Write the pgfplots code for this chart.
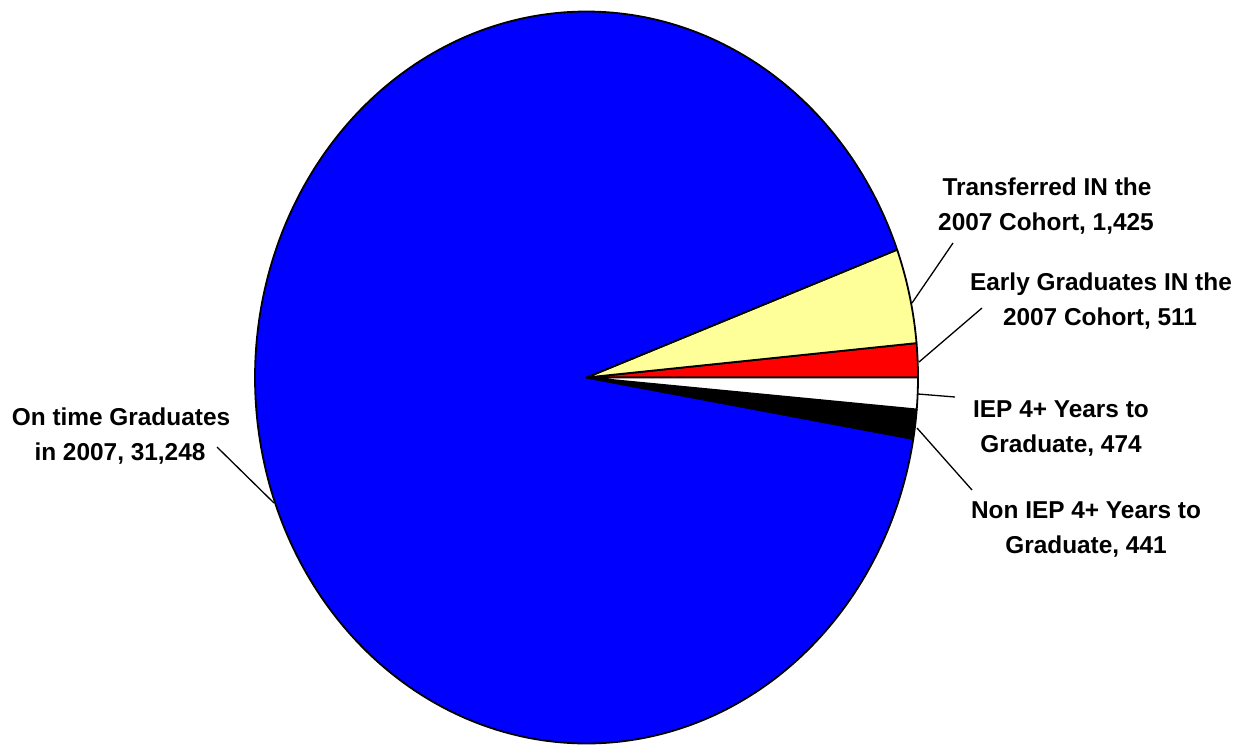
\documentclass[border=0pt]{standalone}
\usepackage{pgfplots}
\pgfplotsset{compat=1.18}
\usepackage{pgfplotstable}
\usepackage{fontspec}
\setmainfont{Liberation Sans}

% Slices in counter-clockwise order, starting at the horizontal on the right
\pgfplotstableread{
label       value
Early       511
Transferred 1425
OnTime      31248
NonIEP      441
IEP         474
}\piedata

\pgfplotstablegetelem{0}{value}\of\piedata \edef\vA{\pgfplotsretval}
\pgfplotstablegetelem{1}{value}\of\piedata \edef\vB{\pgfplotsretval}
\pgfplotstablegetelem{2}{value}\of\piedata \edef\vC{\pgfplotsretval}
\pgfplotstablegetelem{3}{value}\of\piedata \edef\vD{\pgfplotsretval}
\pgfplotstablegetelem{4}{value}\of\piedata \edef\vE{\pgfplotsretval}
\edef\total{\fpeval{\vA+\vB+\vC+\vD+\vE}}
% cumulative boundary angles (degrees)
\edef\aA{\fpeval{round(360*\vA/\total,4)}}
\edef\aB{\fpeval{round(360*(\vA+\vB)/\total,4)}}
\edef\aC{\fpeval{round(360*(\vA+\vB+\vC)/\total,4)}}
\edef\aD{\fpeval{round(360*(\vA+\vB+\vC+\vD)/\total,4)}}

\definecolor{pieblue}{RGB}{0,0,255}
\definecolor{pieyellow}{RGB}{255,255,153}
\definecolor{piered}{RGB}{255,0,0}

\newcommand\lbl{\fontsize{12.2}{14}\selectfont\bfseries}

\begin{document}
\begin{tikzpicture}
\begin{axis}[
  at={(293.25pt,-188.75pt)}, anchor=center,
  scale only axis, width=331.5pt, height=366pt,
  xmin=-1, xmax=1, ymin=-1, ymax=1,
  hide axis, clip=false,
  every axis plot/.append style={draw=black, line width=0.9pt, line join=round},
]
\addplot[fill=piered,    domain=0:\aA,   samples=20,  variable=\t] ({cos(\t)},{sin(\t)}) -- (0,0) -- cycle;
\addplot[fill=pieyellow, domain=\aA:\aB, samples=30,  variable=\t] ({cos(\t)},{sin(\t)}) -- (0,0) -- cycle;
\addplot[fill=pieblue,   domain=\aB:\aC, samples=300, variable=\t] ({cos(\t)},{sin(\t)}) -- (0,0) -- cycle;
\addplot[fill=black,     domain=\aC:\aD, samples=20,  variable=\t] ({cos(\t)},{sin(\t)}) -- (0,0) -- cycle;
\addplot[fill=white,     domain=\aD:360, samples=20,  variable=\t] ({cos(\t)},{sin(\t)}) -- (0,0) -- cycle;
\end{axis}

\begin{scope}[x=0.5pt, y=-0.5pt]
\useasboundingbox (0,0) rectangle (1241,744);
% leader lines
\draw[line width=0.65pt] (912,303) -- (953,243);
\draw[line width=0.65pt] (919,362) -- (982,308);
\draw[line width=0.65pt] (918,394) -- (955,397);
\draw[line width=0.65pt] (917,428) -- (972,490);
\draw[line width=0.65pt] (274,503) -- (217,447);
% labels
\node[anchor=base, inner sep=0pt, font=\lbl] at (121,425) {On time Graduates};
\node[anchor=base, inner sep=0pt, font=\lbl] at (120,460) {in 2007, 31,248};
\node[anchor=base, inner sep=0pt, font=\lbl] at (1047,195) {Transferred IN the};
\node[anchor=base, inner sep=0pt, font=\lbl] at (1046,230) {2007 Cohort, 1,425};
\node[anchor=base, inner sep=0pt, font=\lbl] at (1101,290) {Early Graduates IN the};
\node[anchor=base, inner sep=0pt, font=\lbl] at (1100,325) {2007 Cohort, 511};
\node[anchor=base, inner sep=0pt, font=\lbl] at (1061,417) {IEP 4+ Years to};
\node[anchor=base, inner sep=0pt, font=\lbl] at (1061,452) {Graduate, 474};
\node[anchor=base, inner sep=0pt, font=\lbl] at (1086,518) {Non IEP 4+ Years to};
\node[anchor=base, inner sep=0pt, font=\lbl] at (1086,553) {Graduate, 441};
\end{scope}
\end{tikzpicture}
\end{document}
